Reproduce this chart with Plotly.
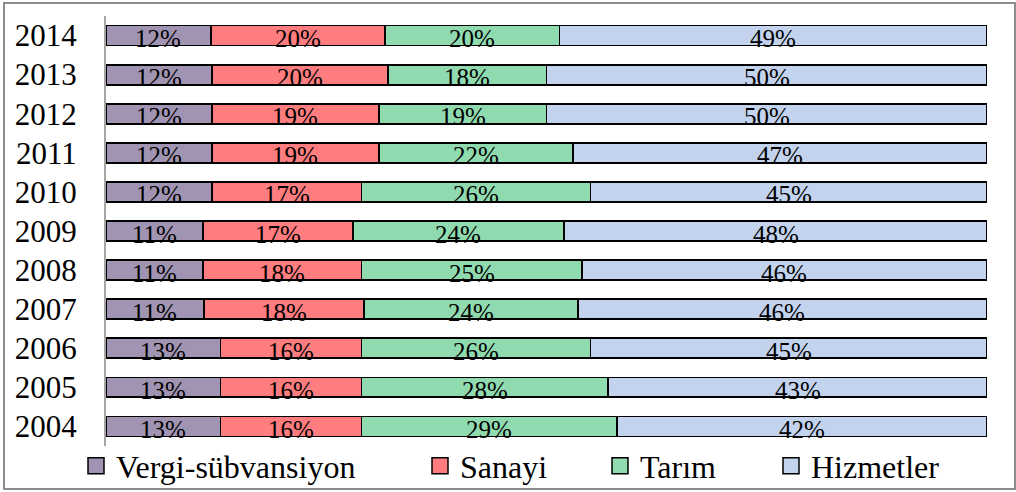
import plotly.graph_objects as go

# Share of each sector per year (%)
years = ["2004", "2005", "2006", "2007", "2008", "2009",
         "2010", "2011", "2012", "2013", "2014"]
vergi = [13, 13, 13, 11, 11, 11, 12, 12, 12, 12, 12]
sanayi = [16, 16, 16, 18, 18, 17, 17, 19, 19, 20, 20]
tarim = [29, 28, 26, 24, 25, 24, 26, 22, 19, 18, 20]
hizmet = [42, 43, 45, 46, 46, 48, 45, 47, 50, 50, 49]

names = ["Vergi-sübvansiyon", "Sanayi", "Tarım", "Hizmetler"]
series = [vergi, sanayi, tarim, hizmet]
colors = ["#A094B2", "#FF7C7F", "#8FDAAE", "#C3D3EE"]

W, H = 1016, 492
ML, MR, MT, MB = 106, 29, 16, 46
PW, PH = W - ML - MR, H - MT - MB

FONT = "Liberation Serif"


def px_x(px):
    return (px - ML) / PW


def px_y(py):
    return (H - MB - py) / PH


fig = go.Figure()

for i, (name, vals, col) in enumerate(zip(names, series, colors)):
    fig.add_trace(go.Bar(
        y=years, x=vals, name=name, orientation="h",
        marker=dict(color=col, line=dict(color="#000000", width=1.8)),
        showlegend=False, hoverinfo="name+x",
    ))
    # legend entry with a larger square swatch
    fig.add_trace(go.Scatter(
        x=[None], y=[None], mode="markers", name=name,
        marker=dict(symbol="square", size=16, color=col,
                    line=dict(color="#000000", width=1.5)),
        legend="legend" if i == 0 else f"legend{i + 1}",
        hoverinfo="skip",
    ))

# value labels centred in each segment (segments normalised to 100%)
annotations = []
for r, yr in enumerate(years):
    row = [s[r] for s in series]
    total = sum(row)
    cum = 0.0
    for v in row:
        mid = (cum + v / 2) / total * 100
        cum += v
        annotations.append(dict(
            x=mid, y=r, xref="x", yref="y", text=f"{v}%",
            showarrow=False, yshift=-3,
            font=dict(family=FONT, size=25, color="#000000"),
        ))

legend_left_px = [88, 432, 612, 783]
legend_common = dict(
    orientation="h", yanchor="middle", xanchor="left",
    bgcolor="rgba(0,0,0,0)", borderwidth=0,
    font=dict(family=FONT, size=32, color="#000000"),
    itemclick=False, itemdoubleclick=False,
)
legends = {}
for i, lx in enumerate(legend_left_px):
    key = "legend" if i == 0 else f"legend{i + 1}"
    legends[key] = dict(legend_common, x=px_x(lx - 12), y=px_y(466))

fig.update_layout(
    width=W, height=H,
    margin=dict(l=ML, r=MR, t=MT, b=MB, autoexpand=False),
    barmode="stack", barnorm="percent", bargap=0.49,
    plot_bgcolor="#FFFFFF", paper_bgcolor="#FFFFFF",
    font=dict(family=FONT, color="#000000"),
    xaxis=dict(range=[0, 100], visible=False, fixedrange=True),
    yaxis=dict(
        type="category", categoryorder="array", categoryarray=years,
        range=[-0.5, 10.5], showgrid=False, zeroline=False,
        showline=True, linecolor="#A6A6A6", linewidth=2,
        ticks="", ticklabelstandoff=21,
        tickfont=dict(family=FONT, size=31, color="#000000"),
        fixedrange=True,
    ),
    annotations=annotations,
    shapes=[dict(
        type="rect", xref="paper", yref="paper",
        x0=px_x(4), x1=px_x(1015), y0=px_y(489), y1=px_y(3),
        line=dict(color="#8C8C8C", width=2), fillcolor="rgba(0,0,0,0)",
        layer="below",
    )],
    **legends,
)

fig.write_html("out.html")
